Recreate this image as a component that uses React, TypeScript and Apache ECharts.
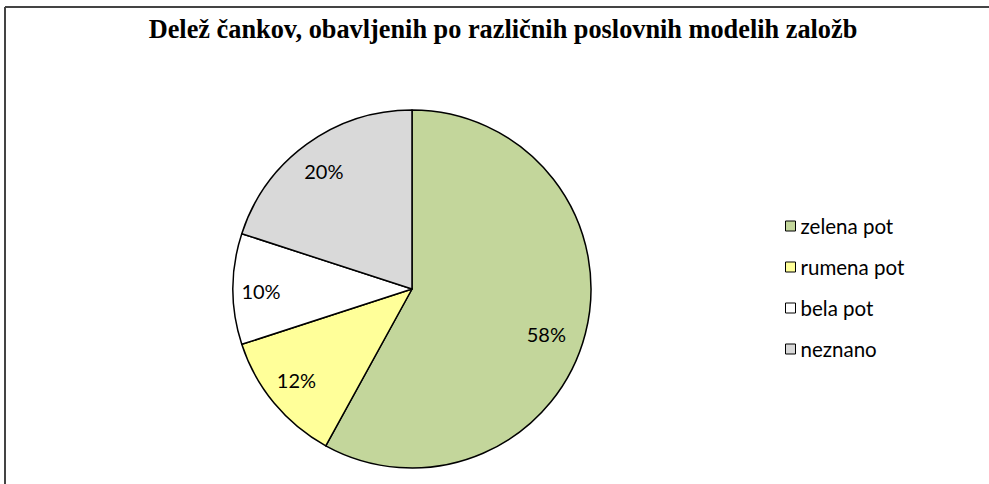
import React, { useEffect, useRef } from "react";
import * as echarts from "echarts";

const titleText = "Delež čankov, obavljenih po različnih poslovnih modelih založb";
const categories = ["zelena pot", "rumena pot", "bela pot", "neznano"];
const values = [58, 12, 10, 20];
const colors = ["#C3D69B", "#FFFF99", "#FFFFFF", "#D9D9D9"];
const labelShift = [
  [-11, 8],
  [0, -5],
  [-1, 2],
  [0, 3],
];

export default function App() {
  const ref = useRef<HTMLDivElement>(null);
  useEffect(() => {
    document.body.style.margin = "0";
    const chart = echarts.init(ref.current!, null, { renderer: "svg" });
    const data = categories.map((name, i) => ({
      name,
      value: values[i],
      itemStyle: { color: colors[i] },
    }));
    chart.setOption({
      animation: false,
      backgroundColor: "#fff",
      title: {
        text: titleText,
        left: 498,
        textAlign: "center",
        top: 11,
        textStyle: {
          fontFamily: "Liberation Serif",
          fontWeight: "bold",
          fontSize: 26.3,
          color: "#000",
        },
      },
      legend: {
        orient: "vertical",
        left: 780,
        top: 209,
        icon: "rect",
        itemWidth: 10,
        itemHeight: 10,
        itemGap: 17,
        data: categories,
        itemStyle: { borderColor: "#000", borderWidth: 1 },
        textStyle: {
          fontFamily: "Lato",
          fontSize: 20.5,
          lineHeight: 24,
          color: "#000",
        },
      },
      graphic: [
        {
          type: "line",
          shape: { x1: 5, y1: 7, x2: 989, y2: 7 },
          style: { stroke: "#444", lineWidth: 2 },
          silent: true,
        },
        {
          type: "line",
          shape: { x1: 5, y1: 7, x2: 5, y2: 484 },
          style: { stroke: "#444", lineWidth: 2 },
          silent: true,
        },
      ],
      series: [
        {
          type: "pie",
          center: [412, 289],
          radius: [0, 179],
          startAngle: 90,
          clockwise: true,
          data,
          label: { show: false },
          labelLine: { show: false },
          itemStyle: { borderColor: "#000", borderWidth: 1.5 },
          emphasis: { disabled: true },
          silent: true,
        },
        {
          type: "pie",
          center: [412, 289],
          radius: [115, 179],
          startAngle: 90,
          clockwise: true,
          data: categories.map((name, i) => ({ name, value: values[i] })),
          itemStyle: { color: "rgba(0,0,0,0)", borderWidth: 0 },
          label: {
            show: true,
            position: "inside",
            formatter: "{c}%",
            fontFamily: "Lato",
            fontSize: 20,
            color: "#000",
          },
          labelLayout: (params: any) => {
            const s = labelShift[params.dataIndex] || [0, 0];
            return { dx: s[0], dy: s[1] };
          },
          labelLine: { show: false },
          emphasis: { disabled: true },
          silent: true,
        },
      ],
    });
    return () => chart.dispose();
  }, []);
  return <div ref={ref} style={{ width: 989, height: 484 }} />;
}
